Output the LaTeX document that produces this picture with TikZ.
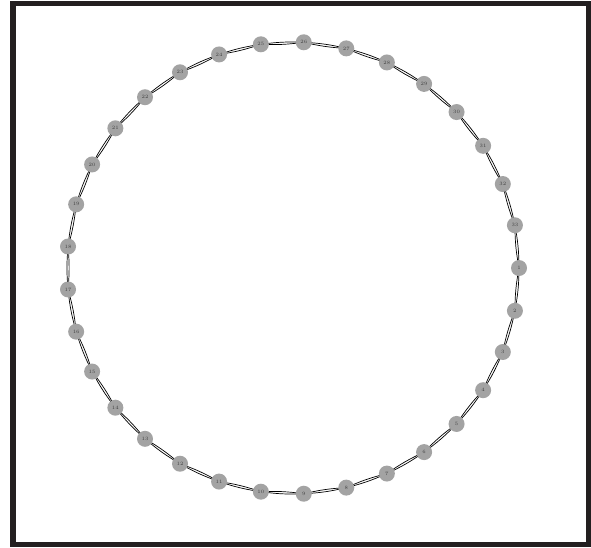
\documentclass[tikz,border=0pt]{standalone}
\usepackage{xcolor}
\usepackage{tikz}
\definecolor{frameK}{HTML}{231F20}
\definecolor{nodeG}{HTML}{A3A3A3}
\definecolor{labelG}{HTML}{404040}

\begin{document}
\begin{tikzpicture}[
  x=1pt, y=-1pt,
  nd/.style={circle, fill=nodeG, minimum size=16pt, inner sep=0pt, text=labelG, font=\fontsize{5}{6}\selectfont},
  ed/.style={black, line width=0.7pt}
]
\useasboundingbox (0,0) rectangle (591,547);
% frame
\draw[frameK, line width=5.5pt] (13,3.5) rectangle (588.5,544.5);

% ring edges (two per pair)
\foreach \i in {1,...,33}{
  \coordinate (c\i) at ({293+226*cos((\i-1)*360/33)},{268+226*sin((\i-1)*360/33)});
}
\foreach \i [evaluate=\i as \j using {int(mod(\i,33)+1)}] in {1,...,33}{
  \draw[ed] (c\i) to[bend left=5] (c\j);
  \draw[ed] (c\i) to[bend right=5] (c\j);
}

% nodes
\foreach \i in {1,...,33}{
  \node[nd] (n\i) at (c\i) {\i};
}
\end{tikzpicture}
\end{document}
